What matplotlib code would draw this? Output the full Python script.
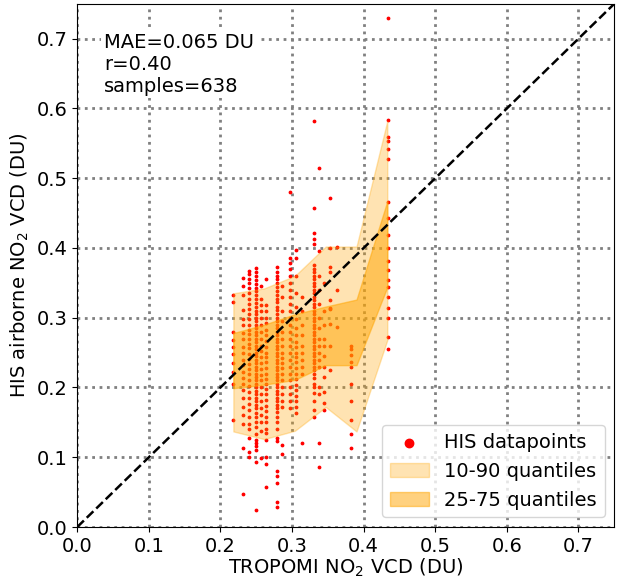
import numpy as np
import matplotlib
matplotlib.use("Agg")
import matplotlib.pyplot as plt

# HIS values grouped by TROPOMI pixel value
his_0218 = [0.333, 0.322, 0.279, 0.268, 0.258, 0.248, 0.235, 0.222, 0.205, 0.153]
his_0232 = [0.357, 0.345, 0.333, 0.311, 0.298, 0.29, 0.278, 0.27, 0.258, 0.25, 0.24,
            0.232, 0.222, 0.213, 0.205, 0.196, 0.185, 0.172, 0.161, 0.147, 0.113, 0.048]
his_0240 = [0.367, 0.362, 0.356, 0.35, 0.343, 0.336, 0.327, 0.32, 0.312, 0.305, 0.298,
            0.29, 0.283, 0.276, 0.27, 0.263, 0.256, 0.248, 0.241, 0.234, 0.227, 0.219,
            0.21, 0.202, 0.193, 0.185, 0.176, 0.168, 0.158, 0.148, 0.14, 0.128, 0.107, 0.1]
his_0249 = [0.371, 0.366, 0.36, 0.354, 0.349, 0.343, 0.338, 0.332, 0.327, 0.321, 0.316,
            0.31, 0.305, 0.3, 0.295, 0.29, 0.285, 0.28, 0.275, 0.27, 0.265, 0.26, 0.255,
            0.25, 0.245, 0.24, 0.235, 0.23, 0.225, 0.22, 0.215, 0.21, 0.205, 0.2, 0.195,
            0.19, 0.185, 0.18, 0.175, 0.17, 0.164, 0.158, 0.151, 0.143, 0.134, 0.125,
            0.12, 0.116, 0.111, 0.093, 0.024]
his_0256 = [0.345, 0.327, 0.318, 0.31, 0.3, 0.29, 0.28, 0.27, 0.26, 0.252, 0.243, 0.235,
            0.226, 0.218, 0.21, 0.2, 0.19, 0.18, 0.17, 0.161, 0.151, 0.138, 0.099]
his_0263 = [0.355, 0.318, 0.31, 0.3, 0.292, 0.283, 0.275, 0.266, 0.258, 0.25, 0.243,
            0.236, 0.228, 0.22, 0.212, 0.205, 0.198, 0.19, 0.182, 0.174, 0.166, 0.158,
            0.15, 0.141, 0.135, 0.125, 0.101, 0.09, 0.058]
his_0279 = [0.372, 0.366, 0.36, 0.355, 0.35, 0.344, 0.338, 0.333, 0.327, 0.322, 0.316,
            0.311, 0.305, 0.3, 0.295, 0.29, 0.285, 0.28, 0.275, 0.27, 0.265, 0.26, 0.255,
            0.25, 0.245, 0.24, 0.235, 0.23, 0.225, 0.22, 0.215, 0.21, 0.205, 0.2, 0.195,
            0.19, 0.185, 0.18, 0.175, 0.17, 0.165, 0.158, 0.15, 0.14, 0.127, 0.123,
            0.08, 0.073, 0.063, 0.036, 0.028]
his_0286 = [0.345, 0.33, 0.31, 0.295, 0.28, 0.27, 0.26, 0.25, 0.242, 0.235, 0.228,
            0.22, 0.21, 0.2, 0.19, 0.18, 0.172, 0.118, 0.105]
his_0297 = [0.48, 0.385, 0.378, 0.37, 0.36, 0.35, 0.34, 0.33, 0.32, 0.31, 0.3, 0.29,
            0.28, 0.27, 0.26, 0.25, 0.24, 0.23, 0.22, 0.21, 0.2, 0.19, 0.18, 0.17]
his_0306 = [0.397, 0.385, 0.36, 0.335, 0.315, 0.298, 0.285, 0.275, 0.265, 0.258, 0.25,
            0.243, 0.236, 0.228, 0.22, 0.212, 0.204, 0.196, 0.188, 0.18, 0.172, 0.164]
his_0314 = [0.33, 0.31, 0.29, 0.275, 0.26, 0.25, 0.24, 0.23, 0.22, 0.121]
his_0331 = [0.582, 0.457, 0.421, 0.413, 0.406, 0.375, 0.37, 0.365, 0.36, 0.355, 0.35,
            0.345, 0.34, 0.335, 0.33, 0.325, 0.32, 0.315, 0.31, 0.305, 0.3, 0.295,
            0.29, 0.285, 0.28, 0.275, 0.27, 0.265, 0.26, 0.255, 0.25, 0.245, 0.24,
            0.235, 0.23, 0.225, 0.22, 0.213, 0.205, 0.2, 0.192, 0.18, 0.168, 0.158]
his_0337 = [0.515, 0.396, 0.36, 0.34, 0.32, 0.3, 0.285, 0.27, 0.26, 0.25, 0.24, 0.23,
            0.2, 0.19, 0.121, 0.086]
his_0344 = [0.35, 0.31, 0.29, 0.27, 0.26, 0.245, 0.23, 0.215, 0.194, 0.178, 0.168]
his_0353 = [0.472, 0.40, 0.373, 0.366, 0.326, 0.314, 0.312, 0.291, 0.259, 0.225]
his_0363 = [0.401, 0.34, 0.287]
his_0383 = [0.26, 0.255, 0.247, 0.237, 0.23, 0.205, 0.181, 0.154, 0.133, 0.113]
his_0434 = [0.729, 0.584, 0.559, 0.553, 0.542, 0.527, 0.466, 0.443, 0.419, 0.40, 0.381,
            0.369, 0.354, 0.344, 0.33, 0.314, 0.299, 0.273, 0.255]

tropomi_cols = [0.218, 0.232, 0.240, 0.249, 0.256, 0.263, 0.279, 0.286, 0.297, 0.306,
                0.314, 0.331, 0.337, 0.344, 0.353, 0.363, 0.383, 0.434]
his_cols = [his_0218, his_0232, his_0240, his_0249, his_0256, his_0263, his_0279,
            his_0286, his_0297, his_0306, his_0314, his_0331, his_0337, his_0344,
            his_0353, his_0363, his_0383, his_0434]

# binned quantiles
bin_x = [0.218, 0.261, 0.304, 0.347, 0.390, 0.433]
q10 = [0.137, 0.126, 0.138, 0.172, 0.137, 0.268]
q25 = [0.199, 0.204, 0.211, 0.232, 0.232, 0.344]
q75 = [0.278, 0.290, 0.305, 0.316, 0.326, 0.467]
q90 = [0.335, 0.342, 0.360, 0.402, 0.402, 0.582]

x = np.concatenate([[c] * len(v) for c, v in zip(tropomi_cols, his_cols)])
y = np.concatenate(his_cols)

fig = plt.figure(figsize=(6.18, 5.82), dpi=100)
ax = fig.add_axes([0.125, 0.0945, 0.869, 0.899])

ax.scatter(x, y, s=3, color='red', label='HIS datapoints', zorder=2)
ax.fill_between(bin_x, q10, q90, color='orange', alpha=0.3, label='10-90 quantiles', zorder=3)
ax.fill_between(bin_x, q25, q75, color='orange', alpha=0.5, label='25-75 quantiles', zorder=3)
ax.plot([0, 0.75], [0, 0.75], 'k--', linewidth=1.8, zorder=4)

ax.set_xlim(0, 0.75)
ax.set_ylim(0, 0.75)
ax.set_xticks(np.arange(0, 0.71, 0.1))
ax.set_yticks(np.arange(0, 0.71, 0.1))
ax.grid(linestyle=':', linewidth=2, color='gray')
ax.set_axisbelow(True)
ax.tick_params(labelsize=14)

ax.set_xlabel('TROPOMI NO$_2$ VCD (DU)', fontsize=14, labelpad=1)
ax.set_ylabel('HIS airborne NO$_2$ VCD (DU)', fontsize=14, labelpad=4)

ax.text(0.05, 0.945, 'MAE=0.065 DU\nr=0.40\nsamples=638', transform=ax.transAxes,
        fontsize=14, va='top', ha='left', linespacing=1.2,
        bbox=dict(facecolor='white', edgecolor='none', pad=2))

ax.legend(loc='lower right', fontsize=14, markerscale=3.5, handletextpad=0.8)

plt.savefig('out.png')
